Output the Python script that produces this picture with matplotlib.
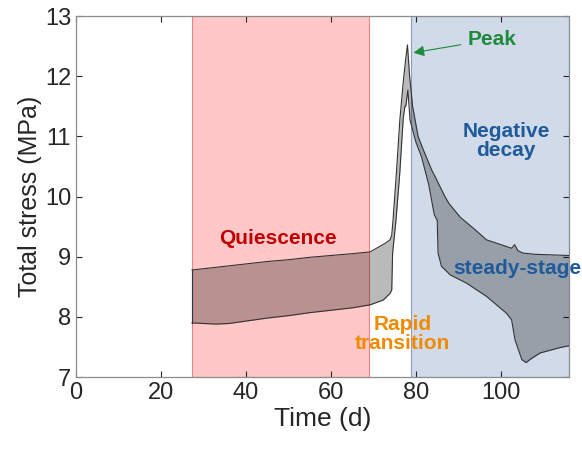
import numpy as np
import matplotlib.pyplot as plt

plt.rcParams['font.family'] = ['Liberation Sans', 'DejaVu Sans']

# upper / lower envelope of the total stress band
t_up = [27.3, 30, 35, 40, 45, 50, 55, 60, 65, 69.2, 70.7, 72.7, 73.9, 74.3, 74.6,
        75.4, 76.2, 77.0, 77.6, 78.0, 78.5, 79.2, 80.5, 81.3, 83.7, 84.5, 86.8,
        87.8, 90.5, 93.9, 96.6, 100, 102.5, 103.2, 104, 105.2, 108, 112, 116]
s_up = [8.78, 8.80, 8.84, 8.88, 8.92, 8.95, 8.99, 9.02, 9.05, 9.08, 9.14, 9.22,
        9.28, 9.36, 9.61, 10.4, 11.27, 11.9, 12.3, 12.52, 12.0, 11.5, 11.0, 10.85,
        10.44, 10.33, 10.0, 9.88, 9.65, 9.45, 9.28, 9.2, 9.14, 9.2, 9.1, 9.06,
        9.04, 9.03, 9.02]

t_lo = [27.3, 30, 33, 36, 40, 45, 50, 55, 60, 65, 69.2, 72.3, 73.9, 74.3, 74.5,
        75.3, 76.2, 77.0, 77.4, 77.6, 78.1, 78.6, 80.0, 81.3, 83.0, 84.3, 85.0,
        85.2, 86.0, 87.6, 88.0, 91.9, 96.6, 101.3, 102.5, 103.3, 104.9, 105.9,
        107, 109.2, 113.9, 116]
s_lo = [7.90, 7.89, 7.88, 7.89, 7.93, 7.98, 8.02, 8.07, 8.11, 8.15, 8.20, 8.28,
        8.39, 8.45, 9.06, 9.61, 10.4, 11.3, 11.5, 11.5, 11.77, 11.27, 10.9, 10.66,
        10.2, 9.7, 9.6, 9.06, 8.84, 8.73, 8.70, 8.56, 8.34, 8.06, 7.95, 7.62,
        7.29, 7.24, 7.30, 7.40, 7.49, 7.52]

quiet_span = (27.2, 69.0)
decay_span = (78.8, 116)

t = np.union1d(t_up, t_lo)
up = np.interp(t, t_up, s_up)
lo = np.interp(t, t_lo, s_lo)

fig = plt.figure(figsize=(5.82, 4.51), dpi=100)
ax = fig.add_axes([0.1306, 0.164, 0.847, 0.8005])

ax.axvspan(*quiet_span, facecolor=(1.0, 0.78, 0.78), edgecolor=(0.95, 0.5, 0.5), lw=0.8, zorder=0)
ax.axvspan(*decay_span, facecolor=(0.815, 0.855, 0.91), edgecolor=(0.55, 0.62, 0.75), lw=0.8, zorder=0)

ax.fill_between(t, lo, up, color='black', alpha=0.27, lw=0, zorder=2)
ax.plot(t_up, s_up, color='#333333', lw=0.8, zorder=3)
ax.plot(t_lo, s_lo, color='#333333', lw=0.8, zorder=3)
ax.plot([t_up[0], t_lo[0]], [s_up[0], s_lo[0]], color='#333333', lw=0.8, zorder=3)

fs = 15
ax.text(47.5, 9.31, 'Quiescence', color='#c00000', fontsize=fs, fontweight='bold',
        ha='center', va='center')
ax.text(76.8, 7.72, 'Rapid\ntransition', color='#f08a00', fontsize=fs, fontweight='bold',
        ha='center', va='center', linespacing=1.0)
ax.text(101.2, 10.92, 'Negative\ndecay', color='#1f5a9a', fontsize=fs, fontweight='bold',
        ha='center', va='center', linespacing=1.0)
ax.text(103.9, 8.81, 'steady-stage', color='#1f5a9a', fontsize=fs, fontweight='bold',
        ha='center', va='center')
ax.annotate('Peak', xy=(79.4, 12.39), xytext=(97.9, 12.61), color='#1e8a3c',
            fontsize=fs, fontweight='bold', ha='center', va='center',
            arrowprops=dict(arrowstyle='-|>', color='#1e8a3c', lw=0.8,
                            shrinkA=3, shrinkB=0, mutation_scale=16))

ax.set_xlim(0, 116)
ax.set_ylim(7, 13)
ax.set_xticks([0, 20, 40, 60, 80, 100])
ax.set_yticks([7, 8, 9, 10, 11, 12, 13])
ax.tick_params(direction='in', top=True, right=True, labelsize=17, colors='#262626',
               length=4, width=0.8)
for sp in ax.spines.values():
    sp.set_color('#8c8c8c')
    sp.set_linewidth(0.9)
ax.set_xlabel('Time (d)', fontsize=19, color='#262626', labelpad=2)
ax.set_ylabel('Total stress (MPa)', fontsize=18, color='#262626', labelpad=2)

fig.savefig('out.png', dpi=100)
